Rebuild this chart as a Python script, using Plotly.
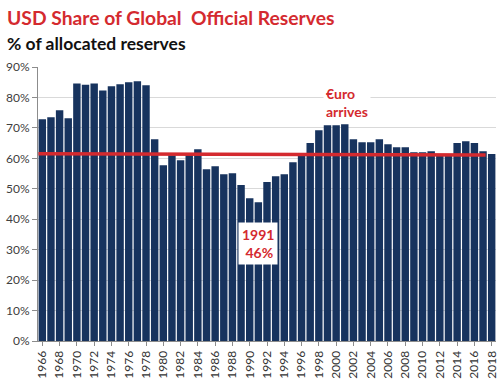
import plotly.graph_objects as go

years = list(range(1966, 2019))
usd_share = [72.8, 73.5, 75.8, 73.2, 84.6, 84.2, 84.6, 82.3, 83.7, 84.3,
             85.0, 85.3, 84.0, 66.3, 57.7, 61.0, 59.4, 61.4, 63.0, 56.4,
             57.4, 54.8, 55.1, 51.2, 46.9, 45.6, 52.2, 54.1, 54.8, 58.7,
             61.2, 65.0, 69.2, 70.9, 70.9, 71.2, 66.3, 65.3, 65.3, 66.3,
             64.6, 63.6, 63.6, 62.0, 62.0, 62.3, 61.0, 61.0, 65.0, 65.6,
             65.0, 62.3, 61.4]
ref_level_start = 61.5
ref_level_end = 61.1
tick_years = years[::2]
y_ticks = list(range(0, 91, 10))
y_tick_text = [f"{v}%" for v in y_ticks]

RED = "#d42a2f"
NAVY = "#17335e"
FONT = "Lato"

fig = go.Figure()
fig.add_trace(go.Bar(x=years, y=usd_share, marker_color=NAVY,
                     marker_line_width=0, width=0.86))

fig.add_shape(type="line", xref="x", yref="y",
              x0=years[0] - 0.45, x1=years[-1] - 0.7,
              y0=ref_level_start, y1=ref_level_end,
              line=dict(color=RED, width=3.5))

fig.add_annotation(x=1991, y=32, xref="x", yref="y",
                   text="<b>1991</b><br><b>&nbsp;46%</b>", showarrow=False,
                   font=dict(family=FONT, size=14, color=RED),
                   bgcolor="white", borderpad=3, align="left")
fig.add_annotation(x=2001.3, y=78.2, xref="x", yref="y",
                   text="<b>€uro</b><br><b>arrives</b>", showarrow=False,
                   font=dict(family=FONT, size=14, color=RED),
                   bgcolor="white", borderpad=2, align="left")

fig.add_annotation(x=0, y=1, xref="paper", yref="paper", xanchor="left", yanchor="bottom",
                   xshift=-33, yshift=36,
                   text="<b>USD Share of Global  Official Reserves</b>", showarrow=False,
                   font=dict(family=FONT, size=19.3, color=RED))
fig.add_annotation(x=0, y=1, xref="paper", yref="paper", xanchor="left", yanchor="bottom",
                   xshift=-33, yshift=11,
                   text="<b>% of allocated reserves</b>", showarrow=False,
                   font=dict(family=FONT, size=17.5, color="#111111"))

fig.update_layout(
    width=500, height=391,
    margin=dict(l=38, r=4, t=67, b=50, autoexpand=False),
    paper_bgcolor="white", plot_bgcolor="white",
    showlegend=False,
    font=dict(family=FONT, size=11, color="#404040"),
)

fig.update_xaxes(range=[years[0] - 0.5, years[-1] + 0.5], tickvals=tick_years,
                 tickangle=-90, showgrid=False, showline=True, linecolor="#8c8c8c",
                 ticks="outside", ticklen=4, tickcolor="#8c8c8c", automargin=False,
                 tickfont=dict(size=12, color="#333333"))
fig.update_yaxes(range=[0, 90], tickvals=y_ticks, ticktext=y_tick_text,
                 showgrid=True, gridcolor="#d9d9d9", gridwidth=1,
                 showline=True, linecolor="#8c8c8c", ticks="outside", ticklen=5,
                 tickcolor="#8c8c8c", zeroline=False, automargin=False,
                 tickfont=dict(size=12, color="#404040"))

fig.write_html("out.html", config={"displayModeBar": False},
               post_script="document.body.style.margin='0';document.body.style.overflow='hidden';")
